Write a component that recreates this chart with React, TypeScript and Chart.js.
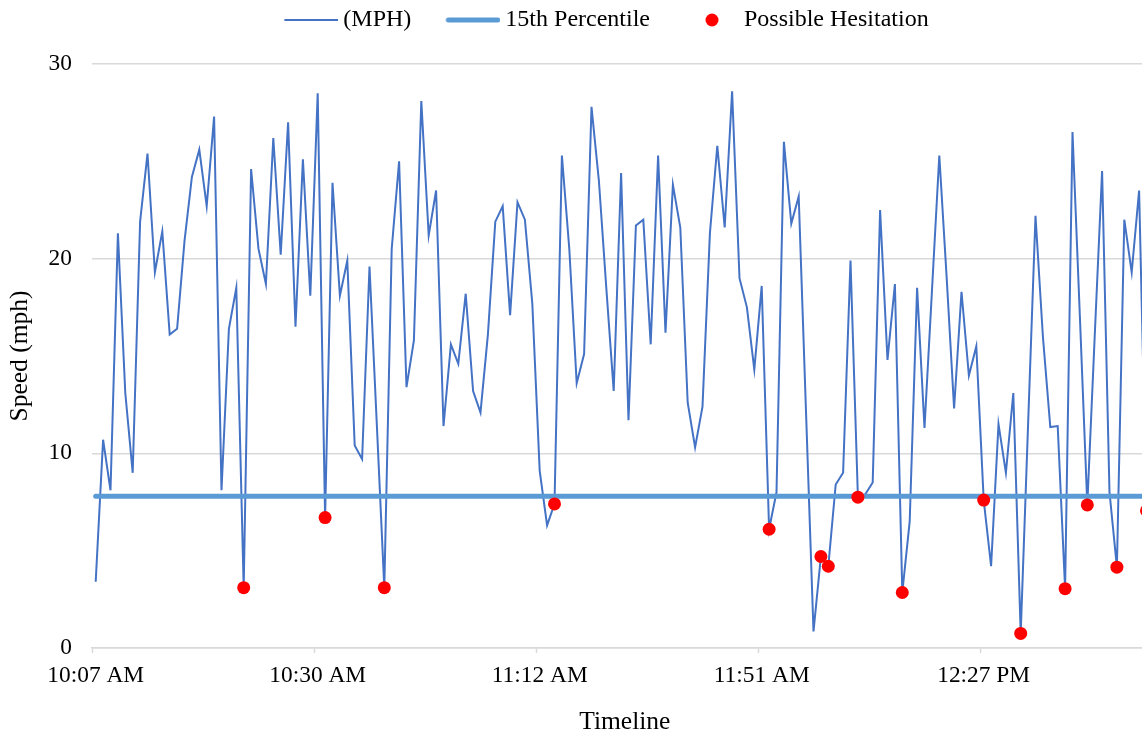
import React, { useEffect, useRef } from "react";
import { Chart, registerables } from "chart.js";

Chart.register(...registerables);

// ---- data ----
const tickLabels = ["10:07 AM", "10:30 AM", "11:12 AM", "11:51 AM", "12:27 PM"];
const labelEvery = 30;
const categoryCount = 144;

const speedMph = [
  3.4, 10.7, 8.1, 21.3, 13.1, 9.0, 21.9, 25.4, 19.3, 21.4,
  16.1, 16.4, 20.9, 24.2, 25.6, 22.7, 27.3, 8.1, 16.4, 18.5,
  3.1, 24.6, 20.5, 18.7, 26.2, 20.2, 27.0, 16.5, 25.1, 18.1,
  28.5, 6.7, 23.9, 18.1, 19.9, 10.4, 9.7, 19.6, 11.4, 3.1,
  20.5, 25.0, 13.4, 15.8, 28.1, 21.2, 23.5, 11.4, 15.6, 14.6,
  18.2, 13.2, 12.1, 16.1, 21.9, 22.7, 17.1, 22.9, 22.0, 17.7,
  9.1, 6.3, 7.4, 25.3, 20.5, 13.6, 15.1, 27.8, 24.0, 18.5,
  13.2, 24.4, 11.7, 21.7, 22.0, 15.6, 25.3, 16.2, 23.8, 21.6,
  12.6, 10.3, 12.4, 21.3, 25.8, 21.6, 28.6, 19.0, 17.5, 14.3,
  18.6, 6.1, 8.0, 26.0, 21.8, 23.2, 12.0, 0.85, 4.7, 4.2,
  8.4, 9.0, 19.9, 7.75, 7.9, 8.5, 22.5, 14.8, 18.7, 2.85,
  6.5, 18.5, 11.3, 18.3, 25.3, 19.0, 12.3, 18.3, 14.0, 15.5,
  7.6, 4.2, 11.5, 9.0, 13.1, 0.75, 11.5, 22.2, 16.0, 11.35,
  11.4, 3.05, 26.5, 17.0, 7.35, 16.0, 24.5, 8.0, 4.15, 22.0,
  19.3, 23.5, 7.05,
];

const percentile15 = 7.8;

const hesitationIndex = [20, 31, 39, 62, 91, 98, 99, 103, 109, 120, 125, 131, 134, 138, 142];

const yMin = 0;
const yMax = 30;
const yStep = 10;

// ---- styling ----
const W = 1186;
const H = 740;
const FONT = "'Liberation Serif', 'Times New Roman', serif";
const MPH_COLOR = "#4472C4";
const PCT_COLOR = "#5B9BD5";
const DOT_COLOR = "#FF0000";
const GRID = "#D9D9D9";
const LEGEND_BOX = 74;

function makeIcon(draw: (g: CanvasRenderingContext2D) => void) {
  const c = document.createElement("canvas");
  c.width = LEGEND_BOX + 14;
  c.height = 16;
  const g = c.getContext("2d")!;
  draw(g);
  return c;
}

export default function App() {
  const ref = useRef<HTMLCanvasElement>(null);

  useEffect(() => {
    const labels = Array.from({ length: categoryCount }, (_, i) =>
      i % labelEvery === 0 ? tickLabels[i / labelEvery] ?? "" : ""
    );
    const pctSeries = speedMph.map(() => percentile15);
    const hesitation = speedMph.map((v, i) => (hesitationIndex.includes(i) ? v : null));

    const icons = [
      makeIcon((g) => {
        g.strokeStyle = MPH_COLOR;
        g.lineWidth = 2;
        g.beginPath();
        g.moveTo(34, 8);
        g.lineTo(88, 8);
        g.stroke();
      }),
      makeIcon((g) => {
        g.strokeStyle = PCT_COLOR;
        g.lineWidth = 5;
        g.lineCap = "round";
        g.beginPath();
        g.moveTo(36, 8);
        g.lineTo(85.5, 8);
        g.stroke();
      }),
      makeIcon((g) => {
        g.fillStyle = DOT_COLOR;
        g.beginPath();
        g.arc(61, 8, 6.5, 0, Math.PI * 2);
        g.fill();
      }),
    ];

    const chart = new Chart(ref.current!, {
      type: "line",
      data: {
        labels,
        datasets: [
          {
            label: "(MPH)",
            data: speedMph,
            borderColor: MPH_COLOR,
            backgroundColor: MPH_COLOR,
            borderWidth: 2,
            pointRadius: 0,
            tension: 0,
            order: 2,
          },
          {
            label: "15th Percentile",
            data: pctSeries,
            borderColor: PCT_COLOR,
            backgroundColor: PCT_COLOR,
            borderWidth: 5,
            borderCapStyle: "round",
            pointRadius: 0,
            order: 1,
          },
          {
            label: "Possible Hesitation",
            data: hesitation,
            showLine: false,
            borderColor: DOT_COLOR,
            backgroundColor: DOT_COLOR,
            pointBackgroundColor: DOT_COLOR,
            pointBorderWidth: 0,
            pointRadius: 6.5,
            order: 0,
          },
        ],
      },
      options: {
        responsive: false,
        animation: false,
        events: [],
        layout: { padding: 0 },
        plugins: {
          tooltip: { enabled: false },
          // empty spacer between legend and plot area
          title: {
            display: true,
            text: "",
            position: "top",
            weight: 500,
            padding: 0,
            font: { family: FONT, size: 10, lineHeight: "22px" },
          },
          legend: {
            position: "top",
            weight: 1000,
            labels: {
              usePointStyle: true,
              pointStyleWidth: LEGEND_BOX,
              padding: 8,
              color: "#000",
              font: { family: FONT, size: 24 },
              generateLabels: (c: any) =>
                c.data.datasets.map((ds: any, i: number) => ({
                  text: ds.label,
                  pointStyle: icons[i],
                  fillStyle: "transparent",
                  strokeStyle: "transparent",
                  lineWidth: 0,
                  hidden: false,
                  datasetIndex: i,
                  fontColor: "#000",
                })),
            },
          },
        },
        scales: {
          x: {
            type: "category",
            offset: true,
            grid: {
              offset: true,
              drawOnChartArea: false,
              drawTicks: true,
              tickLength: 5,
              tickWidth: 1.5,
              tickColor: (ctx: any) =>
                typeof ctx.index === "number" && ctx.index % labelEvery === 0 ? GRID : "transparent",
            },
            border: { color: GRID, width: 1.5 },
            ticks: {
              autoSkip: false,
              maxRotation: 0,
              minRotation: 0,
              padding: 9,
              color: "#000",
              font: { family: FONT, size: 23.4 },
            },
            title: {
              display: true,
              text: "Timeline",
              color: "#000",
              font: { family: FONT, size: 25.5 },
              padding: { top: 16, bottom: 2.7 },
            },
            afterFit: (s: any) => {
              s.height = 92;
              s.paddingRight = W - 92 - categoryCount * 7.4;
            },
          },
          y: {
            min: yMin,
            max: yMax,
            ticks: {
              stepSize: yStep,
              padding: 20,
              color: "#000",
              font: { family: FONT, size: 23.4 },
            },
            grid: { color: GRID, lineWidth: 1.5, drawTicks: false },
            border: { display: false },
            title: {
              display: true,
              text: "Speed (mph)",
              color: "#000",
              font: { family: FONT, size: 25.5 },
              padding: { top: 5.4, bottom: 0 },
            },
            afterFit: (s: any) => {
              s.width = 92;
            },
          },
        },
      },
    } as any);

    return () => chart.destroy();
  }, []);

  return (
    <div
      style={{
        position: "fixed",
        left: 0,
        top: 0,
        width: 1142,
        height: 740,
        overflow: "hidden",
        background: "#fff",
      }}
    >
      <canvas ref={ref} width={W} height={H} style={{ display: "block", width: W, height: H }} />
    </div>
  );
}
